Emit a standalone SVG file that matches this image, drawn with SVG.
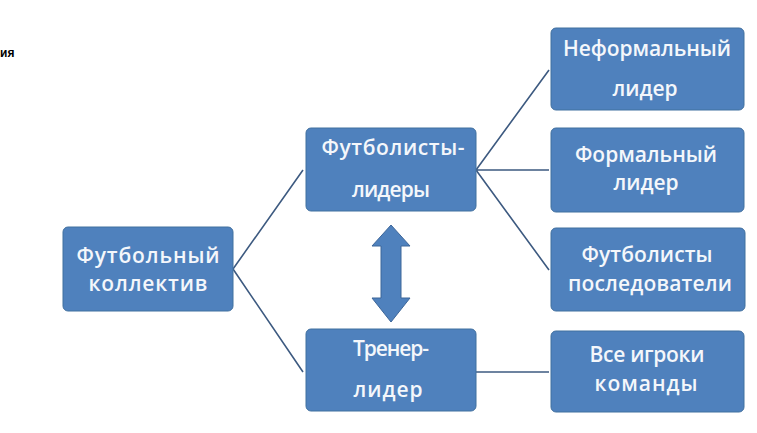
<svg xmlns="http://www.w3.org/2000/svg" width="757" height="433" viewBox="0 0 757 433">
<style>
.box{fill:#4F81BD;stroke:#41709F;stroke-width:1}
.t{fill:#F4F7FB;font-family:"Open Sans","Liberation Sans",sans-serif;font-size:21px;font-weight:600;text-anchor:middle}
.c{stroke:#3D5A80;stroke-width:1.6;fill:none}
</style>
<rect width="757" height="433" fill="#FFFFFF"/>
<text x="0" y="57" font-family="Liberation Sans, sans-serif" font-size="12" font-weight="bold" fill="#000">ия</text>
<g id="connectors">
<path class="c" d="M233,269 L303,170 M233,269 L303,372"/>
<path class="c" d="M476,170 L549,70 M476,170 L549,170 M476,170 L549,270"/>
<path class="c" d="M476,372 L549,372"/>
<path d="M391,225 L410,246 L401,246 L401,298 L410,298 L391,322 L372,298 L381,298 L381,246 L372,246 Z" fill="#4F81BD" stroke="#3D6699" stroke-width="1"/>
</g>
<g id="n1"><rect class="box" x="63" y="227" width="170" height="84" rx="5"/>
<text class="t" x="148" y="263" textLength="143">Футбольный</text><text class="t" x="148" y="291" textLength="119">коллектив</text></g>
<g id="n2"><rect class="box" x="306" y="128" width="170" height="83" rx="5"/>
<text class="t" x="393" y="155" textLength="143">Футболисты-</text><text class="t" x="391" y="197" textLength="78">лидеры</text></g>
<g id="n3"><rect class="box" x="306" y="329" width="170" height="82" rx="5"/>
<text class="t" x="391" y="356" textLength="76">Тренер-</text><text class="t" x="388" y="397" textLength="69">лидер</text></g>
<g id="r1"><rect class="box" x="551" y="28" width="193" height="82" rx="5"/>
<text class="t" x="647" y="56" textLength="168">Неформальный</text><text class="t" x="645" y="96" textLength="65">лидер</text></g>
<g id="r2"><rect class="box" x="551" y="128" width="193" height="84" rx="5"/>
<text class="t" x="646" y="162" textLength="142">Формальный</text><text class="t" x="646" y="190" textLength="65">лидер</text></g>
<g id="r3"><rect class="box" x="551" y="228" width="194" height="83" rx="5"/>
<text class="t" x="647" y="262" textLength="131">Футболисты</text><text class="t" x="650" y="291" textLength="164">последователи</text></g>
<g id="r4"><rect class="box" x="551" y="331" width="193" height="81" rx="5"/>
<text class="t" x="647" y="362" textLength="115">Все игроки</text><text class="t" x="646" y="391" textLength="103">команды</text></g>
</svg>
